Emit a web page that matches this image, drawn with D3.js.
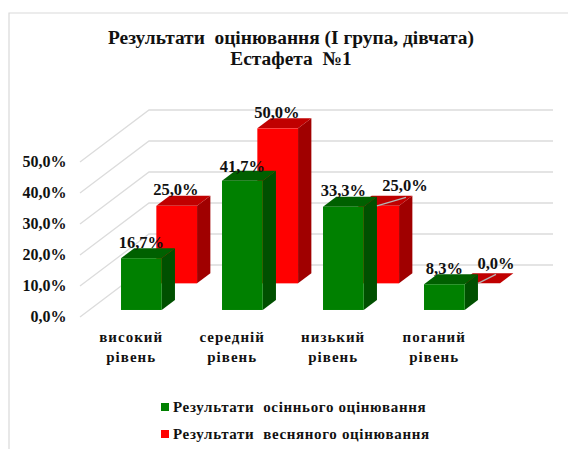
<!DOCTYPE html>
<html><head><meta charset="utf-8">
<script src="https://cdn.jsdelivr.net/npm/d3@7"></script>
<style>
html,body{margin:0;padding:0;background:#fff}
svg{display:block}
text{font-family:"Liberation Serif",serif;font-weight:bold;fill:#111}
</style></head><body><svg id="c" width="568" height="450"></svg>
<script>
const titleLines = ["Результати  оцінювання (І група, дівчата)", "Естафета  №1"];
const categories = [["високий","рівень"],["середній","рівень"],["низький","рівень"],["поганий","рівень"]];
const seriesNames = ["Результати  осіннього оцінювання", "Результати  весняного оцінювання"];
const autumn = [16.7, 41.7, 33.3, 8.3];
const spring = [25.0, 50.0, 25.0, 0.0];
const yTicks = [0, 10, 20, 30, 40, 50];

const svg = d3.select("#c");
const fmt = v => v.toFixed(1).replace(".", ",") + "%";

const y = d3.scaleLinear().domain([0, 50]).range([317, 162]);
const x = d3.scaleBand().domain(d3.range(categories.length)).range([111.2, 515.2]).paddingInner(0).paddingOuter(0);
const depth = d3.scaleLinear().domain([0, 1]).range([0, 1]);
const DX = 69, DY = -52;
const px = (i, u, t) => x(i) + u + depth(t) * DX;
const py = (v, t) => y(v) + depth(t) * DY;
const pt = (a) => a.map(p => p.join(",")).join(" ");

// frame
svg.append("path").attr("d", "M9,449V13H568").attr("fill", "none").attr("stroke", "#d9d9d9").attr("stroke-width", 1.2);

// gridlines on wall and back
svg.append("g").selectAll("polyline").data(yTicks.filter(d => d >= 0)).join("polyline")
  .attr("fill", "none").attr("stroke", "#dcdcdc").attr("stroke-width", 1.3)
  .attr("points", d => pt([[80, py(d, 0)], [149, py(d, 1)], [553, py(d, 1)]]));

// y labels
svg.append("g").selectAll("text").data(yTicks).join("text")
  .attr("x", 66.5).attr("y", d => y(d)).attr("dy", "0.33em").attr("text-anchor", "end")
  .attr("font-size", 16).text(d => fmt(d));

const barW = 40.7;
function bar(g, i, v, t0, t1, c) {
  const u0 = 0.5, u1 = u0 + barW;
  g.append("polygon").attr("points", pt([[px(i,u1,t0),py(0,t0)],[px(i,u1,t1),py(0,t1)],[px(i,u1,t1),py(v,t1)],[px(i,u1,t0),py(v,t0)]])).attr("fill", c.side);
  g.append("polygon").attr("points", pt([[px(i,u0,t0),py(v,t0)],[px(i,u1,t0),py(v,t0)],[px(i,u1,t1),py(v,t1)],[px(i,u0,t1),py(v,t1)]])).attr("fill", c.top);
  g.append("rect").attr("x", px(i,u0,t0)).attr("y", py(v,t0)).attr("width", barW).attr("height", py(0,t0)-py(v,t0)).attr("fill", c.front);
}
const gBars = svg.append("g");
const redC = {front:"#ff0000", side:"#a00000", top:"#c00000"};
const greenC = {front:"#008000", side:"#005000", top:"#006000"};
categories.forEach((_, i) => {
  bar(gBars, i, spring[i], 0.647, 0.84, redC);
  bar(gBars, i, autumn[i], 0.135, 0.327, greenC);
});

// leader lines for the two moved spring labels
[2, 3].forEach(i => {
  const a = [px(i, 41.2, 0.327), py(spring[i], 0.647)];
  const b = [px(i, 41.2, 0.327) + (i === 2 ? 29 : 18), py(spring[i], 0.647) - (i === 2 ? 8.5 : 9)];
  svg.append("line").attr("x1", a[0]).attr("y1", a[1]).attr("x2", b[0]).attr("y2", b[1])
    .attr("stroke", "#b5b5b5").attr("stroke-width", 1.2);
});

// data labels
const lab = svg.append("g").attr("font-size", 16.5).attr("text-anchor", "middle");
categories.forEach((_, i) => {
  lab.append("text").attr("x", px(i, 20.8, 0.135)).attr("y", py(autumn[i], 0.135) - 16 + (i === 1 ? 2 : 0)).attr("dy", "0.33em").text(fmt(autumn[i]));
  const moved = i >= 2;
  lab.append("text").attr("x", moved ? px(i, 41.2, 0.327) + (i === 2 ? 28 : 18) : px(i, 20, 0.647))
    .attr("y", py(spring[i], 0.647) - (moved ? 20 : 16)).attr("dy", "0.33em").text(fmt(spring[i]));
});

// category labels
const cat = svg.append("g").attr("font-size", 15).attr("text-anchor", "middle").attr("letter-spacing", "1px");
categories.forEach((lines, i) => {
  lines.forEach((s, j) => cat.append("text").attr("x", x(i) + 20).attr("y", 342 + j * 20).text(s));
});

// title
svg.append("g").attr("font-size", 19.4).attr("text-anchor", "middle").selectAll("text").data(titleLines).join("text")
  .attr("x", 291).attr("y", (d, i) => 43.5 + i * 21.5).style("white-space", "pre").text(d => d);

// legend
const leg = svg.append("g");
[greenC.front, redC.front].forEach((c, i) => {
  leg.append("rect").attr("x", 161).attr("y", 403 + i * 27).attr("width", 8).attr("height", 8).attr("fill", c);
  leg.append("text").attr("x", 173).attr("y", 412 + i * 27).attr("font-size", 15).attr("letter-spacing", "0.65px").style("white-space", "pre").text(seriesNames[i]);
});
</script></body></html>
